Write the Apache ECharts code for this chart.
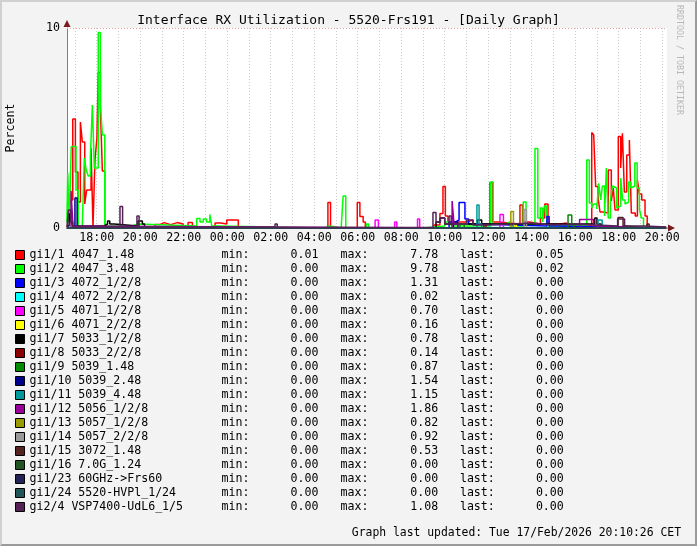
<!DOCTYPE html>
<html><head><meta charset="utf-8">
<script src="https://cdn.jsdelivr.net/npm/echarts@6/dist/echarts.min.js"></script>
<style>
html,body{margin:0;padding:0;background:#f3f3f3;}
#wrap{position:relative;width:697px;height:546px;}
#c{position:absolute;left:0;top:0;width:697px;height:546px;}
#frame{position:absolute;left:0;top:0;width:697px;height:546px;box-sizing:border-box;border-top:2px solid #d0d0d0;border-left:2px solid #d0d0d0;border-right:2px solid #9a9a9a;border-bottom:2px solid #9a9a9a;pointer-events:none;}
</style>
</head><body><div id="wrap"><div id="c"></div><div id="frame"></div></div>
<script>
// ---- axis definition (hours since 00:00 of first day) ----
const tStart = 16.6345, tEnd = 44.22;
const hourTicks = [17,18,19,20,21,22,23,24,25,26,27,28,29,30,31,32,33,34,35,36,37,38,39,40,41,42,43,44];
const labelTicks = [18,20,22,24,26,28,30,32,34,36,38,40,42,44];
const tickLabels = ["18:00","20:00","22:00","00:00","02:00","04:00","06:00","08:00","10:00","12:00","14:00","16:00","18:00","20:00"];

// ---- legend ----
const names = ["gi1/1 4047_1.48","gi1/2 4047_3.48","gi1/3 4072_1/2/8","gi1/4 4072_2/2/8","gi1/5 4071_1/2/8","gi1/6 4071_2/2/8","gi1/7 5033_1/2/8","gi1/8 5033_2/2/8","gi1/9 5039_1.48","gi1/10 5039_2.48","gi1/11 5039_4.48","gi1/12 5056_1/2/8","gi1/13 5057_1/2/8","gi1/14 5057_2/2/8","gi1/15 3072_1.48","gi1/16 7.0G_1.24","gi1/23 60GHz->Frs60","gi1/24 5520-HVPl_1/24","gi2/4 VSP7400-UdL6_1/5"];
const colors = ["#ff0000","#00ff00","#0000ff","#00ffff","#ff00ff","#ffff00","#000000","#8b0000","#008b00","#00008b","#009999","#990099","#999900","#999999","#552222","#225522","#222255","#225555","#552255"];
const mins  = ["0.01","0.00","0.00","0.00","0.00","0.00","0.00","0.00","0.00","0.00","0.00","0.00","0.00","0.00","0.00","0.00","0.00","0.00","0.00"];
const maxs  = ["7.78","9.78","1.31","0.02","0.70","0.16","0.78","0.14","0.87","1.54","1.15","1.86","0.82","0.92","0.53","0.00","0.00","0.00","1.08"];
const lasts = ["0.05","0.02","0.00","0.00","0.00","0.00","0.00","0.00","0.00","0.00","0.00","0.00","0.00","0.00","0.00","0.00","0.00","0.00","0.00"];

// ---- series values: [time in hours, value from this time on] ----
const gi1_1 = [[16.63,1.2],[16.77,1.4],[16.90,5.45],[17.02,2.8],[17.14,1.3],[17.25,5.3],[17.34,4.3],[17.45,1.2],[17.54,1.9],[17.74,4.0],[17.83,0.05],[17.92,3.4],[18.01,4.5],[18.07,7.78],[18.17,6.0],[18.26,2.85],[18.37,0.05],[20.68,0.17],[20.9,0.27],[21.1,0.17],[21.4,0.27],[21.7,0.2],[21.97,0.05],[22.2,0.27],[22.4,0.05],[23.44,0.25],[23.7,0.2],[23.98,0.4],[24.51,0],[28.63,1.28],[28.75,0],[29.98,1.28],[30.1,0.57],[30.25,0.3],[30.35,0],[33.5,0.15],[33.78,0.73],[33.92,2.07],[34.03,0.6],[34.15,0.3],[35.0,0.4],[35.3,0.2],[36.08,2.28],[36.19,0.3],[36.5,0.2],[37.46,1.15],[37.58,0.3],[37.9,0.2],[38.4,0.5],[38.6,1.2],[38.75,0.2],[39.3,0.25],[39.6,0.1],[40.76,4.78],[40.85,4.65],[40.94,2.07],[41.05,1.5],[41.14,0.8],[41.3,0.75],[41.52,2.9],[41.66,1.35],[41.75,2.0],[41.83,0.9],[41.98,4.57],[42.09,3.0],[42.17,4.73],[42.26,1.8],[42.37,3.65],[42.49,4.4],[42.58,0.75],[42.76,0.6],[42.86,2.4],[42.95,1.7],[43.06,1.4],[43.21,0.6],[43.31,0.05],[44.17,0.05]];
const gi1_2 = [[16.63,0.3],[16.67,2.75],[16.74,0.3],[16.83,4.07],[17.05,1.9],[17.15,0.05],[17.34,0.2],[17.43,3.5],[17.52,2.9],[17.61,2.6],[17.71,3.55],[17.80,6.15],[17.89,3.0],[18.07,9.78],[18.17,6.2],[18.26,4.65],[18.37,0.1],[19.6,0.2],[19.9,0.1],[22.6,0.48],[22.75,0.3],[22.9,0.45],[23.05,0.3],[23.2,0.68],[23.29,0.1],[23.5,0],[28.5,0.1],[28.7,0],[29.25,0.2],[29.33,1.6],[29.45,0],[30.4,0.2],[30.5,0],[33.0,0.1],[34.0,0.3],[34.3,0.1],[36.11,2.3],[36.23,0.2],[36.8,0.3],[37.0,0.1],[37.61,1.3],[37.74,0.2],[38.15,3.98],[38.28,0.5],[38.4,1.0],[38.5,0.3],[38.58,1.1],[38.69,0.1],[40.53,3.4],[40.65,1.25],[40.76,1.0],[40.85,1.2],[40.99,0.95],[41.08,2.23],[41.17,1.4],[41.25,2.1],[41.35,0.6],[41.43,3.0],[41.52,0.5],[41.62,1.4],[41.71,2.1],[41.8,2.0],[41.9,1.0],[41.99,1.1],[42.09,2.5],[42.18,1.4],[42.29,1.2],[42.37,1.3],[42.46,2.3],[42.56,2.0],[42.65,2.1],[42.74,3.25],[42.85,2.0],[42.95,0.95],[43.04,0.5],[43.14,0.02],[44.17,0.02]];
const gi1_3 = [[16.63,0],[34.2,0.3],[34.5,0.4],[34.66,1.28],[34.93,0.45],[35.1,0.2],[35.4,0.1],[38.7,0.57],[38.8,0.1],[39.2,0],[44.17,0]];
const gi1_4 = [[16.63,0],[35.2,0.02],[35.3,0],[44.17,0]];
const gi1_5 = [[16.63,0],[30.8,0.4],[30.95,0],[31.7,0.3],[31.8,0],[32.75,0.45],[32.85,0],[36.54,0.68],[36.7,0],[44.17,0]];
const gi1_6 = [[16.63,0],[37.2,0.16],[37.3,0],[44.17,0]];
const gi1_7 = [[16.63,0.1],[16.73,0.73],[16.82,0.3],[16.9,0.1],[18.35,0.2],[18.5,0.35],[18.6,0.2],[18.8,0.1],[19.9,0.35],[20.1,0.2],[20.2,0],[33.6,0.3],[33.8,0.5],[34.0,0.2],[35.5,0.4],[35.7,0.2],[40.9,0.5],[41.0,0.2],[41.2,0],[44.17,0]];
const gi1_8 = [[16.63,0],[35.8,0.14],[35.9,0],[44.17,0]];
const gi1_9 = [[16.63,0],[34.7,0.2],[34.9,0],[39.67,0.65],[39.84,0.2],[39.95,0],[44.17,0]];
const gi1_10 = [[16.63,0],[17.0,1.5],[17.1,0],[34.4,0.3],[34.6,0],[44.17,0]];
const gi1_11 = [[16.63,0],[35.48,1.15],[35.58,0.2],[35.7,0],[41.05,0.4],[41.24,0],[44.17,0]];
const gi1_12 = [[16.63,0],[16.82,1.86],[16.91,0.1],[17.0,0],[34.34,1.35],[34.43,0.2],[34.6,0],[40.2,0.43],[40.85,0.1],[41.0,0],[44.17,0]];
const gi1_13 = [[16.63,0],[37.04,0.82],[37.16,0],[44.17,0]];
const gi1_14 = [[16.63,0],[37.65,0.92],[37.76,0],[44.17,0]];
const gi1_15 = [[16.63,0],[41.97,0.53],[42.2,0.1],[42.3,0],[43.3,0.2],[43.4,0],[44.17,0]];
const gi1_16 = [[16.63,0],[44.17,0]];
const gi1_23 = [[16.63,0],[44.17,0]];
const gi1_24 = [[16.63,0],[44.17,0]];
const gi2_4 = [[16.63,0.05],[16.7,0.9],[16.8,0.3],[16.9,0.05],[19.07,1.08],[19.19,0.05],[19.85,0.6],[19.95,0.05],[26.2,0.2],[26.3,0.02],[33.46,0.77],[33.6,0.3],[33.8,0.5],[34.0,0.2],[34.2,0.6],[34.3,0.2],[35.0,0.4],[35.3,0.15],[36.0,0.2],[37.0,0.25],[38.0,0.15],[39.0,0.2],[40.0,0.1],[41.95,0.45],[42.27,0.1],[43.2,0.05],[44.17,0]];

const seriesData = [gi1_1,gi1_2,gi1_3,gi1_4,gi1_5,gi1_6,gi1_7,gi1_8,gi1_9,gi1_10,gi1_11,gi1_12,gi1_13,gi1_14,gi1_15,gi1_16,gi1_23,gi1_24,gi2_4];

const FONT = "DejaVu Sans Mono";
const chart = echarts.init(document.getElementById('c'), null, {renderer:'canvas'});

const series = names.map((n,i)=>({
  name:n, type:'line', step:'end', data:seriesData[i],
  showSymbol:false, symbol:'none', animation:false,
  color:colors[i], itemStyle:{color:colors[i]},
  lineStyle:{color:colors[i], width:1.5}
}));
series[0].markLine = {
  silent:true, symbol:['none','none'], label:{show:false},
  lineStyle:{color:'#e8a0a0', type:[1,2], width:1},
  data:[{yAxis:10}]
};

chart.setOption({
  animation:false,
  backgroundColor:'transparent',
  title:{
    text:'Interface RX Utilization - 5520-Frs191 - [Daily Graph]',
    left:'center', top:9,
    textStyle:{fontFamily:FONT, fontSize:13, fontWeight:'normal', color:'#000'}
  },
  grid:{left:67, top:28, width:600, height:200, show:true, backgroundColor:'#ffffff', borderWidth:0, containLabel:false, outerBoundsMode:'none'},
  xAxis:{
    type:'value', min:tStart, max:tEnd,
    axisLine:{show:true, lineStyle:{color:'#808080', width:1}},
    axisTick:{show:false, customValues:hourTicks},
    splitLine:{show:true, lineStyle:{color:'#cccccc', type:[1,2], width:1}},
    axisLabel:{customValues:labelTicks, margin:4, fontFamily:FONT, fontSize:11.6, color:'#000',
      formatter:function(v){ const i = labelTicks.indexOf(Math.round(v)); return i>=0 ? tickLabels[i] : ''; }}
  },
  yAxis:{
    type:'value', min:0, max:10, interval:10,
    name:'Percent', nameLocation:'middle', nameGap:50, nameRotate:90,
    nameTextStyle:{fontFamily:FONT, fontSize:11.6, color:'#000'},
    axisLine:{show:true, lineStyle:{color:'#808080', width:1}},
    axisTick:{show:false},
    splitLine:{show:false},
    axisLabel:{margin:7, fontFamily:FONT, fontSize:11.6, color:'#000'}
  },
  legend:{
    orient:'vertical', left:15, top:248, padding:0,
    itemWidth:9, itemHeight:9, itemGap:0, icon:'rect',
    selectedMode:false,
    itemStyle:{borderColor:'#000', borderWidth:1},
    data:names,
    formatter:function(name){
      const i = names.indexOf(name);
      return '{n|'+name+'}{a|min:}{v|'+mins[i]+'}{b|max:}{w|'+maxs[i]+'}{c|last:}{v|'+lasts[i]+'}';
    },
    textStyle:{
      fontFamily:FONT, fontSize:11.6, color:'#000', lineHeight:14,
      rich:{
        n:{width:192, fontFamily:FONT, fontSize:11.6, lineHeight:14},
        a:{width:28, fontFamily:FONT, fontSize:11.6, lineHeight:14},
        v:{width:69, align:'right', fontFamily:FONT, fontSize:11.6, lineHeight:14},
        b:{width:50, align:'right', fontFamily:FONT, fontSize:11.6, lineHeight:14},
        w:{width:69.7, align:'right', fontFamily:FONT, fontSize:11.6, lineHeight:14},
        c:{width:56.6, align:'right', fontFamily:FONT, fontSize:11.6, lineHeight:14}
      }
    }
  },
  graphic:[
    {type:'polygon', shape:{points:[[67,20],[63.5,27],[70.5,27]]}, style:{fill:'#7a1a1a'}, z:100},
    {type:'polygon', shape:{points:[[675,228],[668,224.5],[668,231.5]]}, style:{fill:'#7a1a1a'}, z:100},
    {type:'line', shape:{x1:667,y1:228,x2:668,y2:228}, style:{stroke:'#808080'}},
    {type:'text', x:683, y:5, rotation:-Math.PI/2, style:{text:'RRDTOOL / TOBI OETIKER', fontFamily:FONT, fontSize:8.3, fill:'#b8b8b8'}},
    {type:'text', right:16, top:528, style:{text:'Graph last updated: Tue 17/Feb/2026 20:10:26 CET', fontFamily:FONT, fontSize:11.4, fill:'#000'}}
  ],
  series:series
});
</script></body></html>
